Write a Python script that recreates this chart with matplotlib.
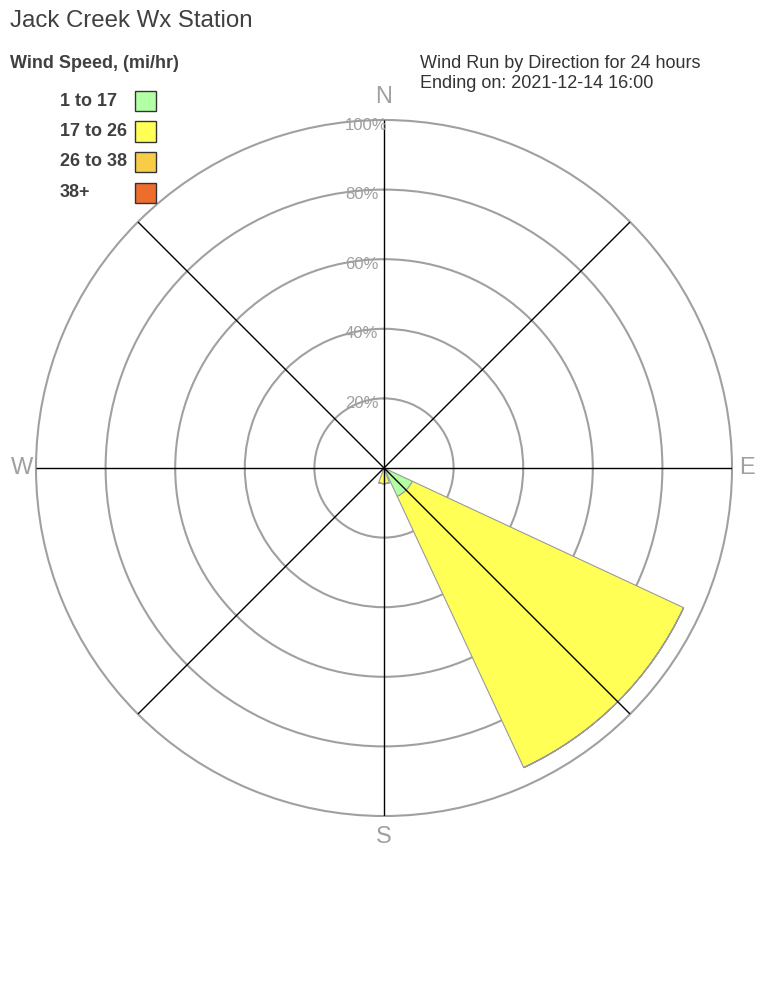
import numpy as np
import matplotlib
matplotlib.use('Agg')
import matplotlib.pyplot as plt
from matplotlib.patches import Rectangle

plt.rcParams['font.family'] = ['Liberation Sans', 'DejaVu Sans']

# wind rose data (percent of wind run, stacked by speed class)
directions = ['N', 'NE', 'E', 'SE', 'S', 'SW', 'W', 'NW']
bearings = [0, 45, 90, 135, 180, 225, 270, 315]
speed_classes = ['1 to 17', '17 to 26', '26 to 38', '38+']
class_colors = ['#b3ffa3', '#ffff55', '#f7cd48', '#ec6d2c']
run_1_17 = [0, 0, 0, 9.0, 0, 0, 0, 0]
run_17_26 = [0, 0, 0, 86.0, 4.5, 0, 0, 0]
run_26_38 = [0, 0, 0, 0, 0, 0, 0, 0]
run_38_plus = [0, 0, 0, 0, 0, 0, 0, 0]
ring_levels = [20, 40, 60, 80, 100]
ring_labels = ['20%', '40%', '60%', '80%', '100%']
compass = ['N', 'E', 'S', 'W']
compass_bearings = [0, 90, 180, 270]

W, H = 768, 1008
fig = plt.figure(figsize=(W / 100, H / 100), dpi=100)

cx, cy, rad = 384, 468, 348
ax = fig.add_axes([(cx - rad) / W, 1 - (cy + rad) / H, 2 * rad / W, 2 * rad / H],
                  projection='polar')
ax.set_theta_zero_location('N')
ax.set_theta_direction(-1)
ax.set_ylim(0, 100)
ax.set_axisbelow(True)

theta = np.radians(bearings)
width = np.radians(40)
bottom = np.zeros(len(directions))
for vals, col in zip([run_1_17, run_17_26, run_26_38, run_38_plus], class_colors):
    vals = np.array(vals)
    ax.bar(theta, vals, width=width, bottom=bottom, color=col,
           edgecolor='#9a9a9a', linewidth=0.8, zorder=2)
    bottom = bottom + vals

# rings and spokes
ax.set_rgrids(ring_levels[:-1], labels=[''] * (len(ring_levels) - 1))
ax.yaxis.grid(True, color='#a0a0a0', linewidth=1.5)
ax.xaxis.grid(False)
ax.set_xticks([])
ax.spines['polar'].set_color('#a0a0a0')
ax.spines['polar'].set_linewidth(1.5)
ax.vlines(np.radians(np.arange(0, 360, 45)), 0, 100, color='black', linewidth=1, zorder=3)

for r, lab in zip(ring_levels, ring_labels):
    ax.annotate(lab, xy=(0, r), xytext=(-39, -5), textcoords='offset pixels',
                ha='left', va='center', fontsize=12, color='#a0a0a0', zorder=4)

offsets = {'N': (0, 23), 'E': (15, 0), 'S': (0, -21), 'W': (-14, 0)}
for lab, b in zip(compass, compass_bearings):
    ax.annotate(lab, xy=(np.radians(b), 100), xytext=offsets[lab],
                textcoords='offset pixels', ha='center', va='center',
                fontsize=17, color='#a0a0a0', annotation_clip=False)

# titles
fig.text(10 / W, 1 - 21 / H, 'Jack Creek Wx Station', fontsize=17.3,
         color='#404040', ha='left', va='center')
fig.text(10 / W, 1 - 63 / H, 'Wind Speed, (mi/hr)', fontsize=13,
         fontweight='bold', color='#404040', ha='left', va='center')
fig.text(420 / W, 1 - 63 / H, 'Wind Run by Direction for 24 hours', fontsize=13,
         color='#333333', ha='left', va='center')
fig.text(420 / W, 1 - 83 / H, 'Ending on: 2021-12-14 16:00', fontsize=13,
         color='#333333', ha='left', va='center')

# legend
for i, (lab, col) in enumerate(zip(speed_classes, class_colors)):
    yc = 101 + i * 30.5
    fig.text(60 / W, 1 - yc / H, lab, fontsize=13, fontweight='bold',
             color='#404040', ha='left', va='center')
    fig.add_artist(Rectangle((135 / W, 1 - (yc + 10) / H), 21 / W, 20 / H,
                             transform=fig.transFigure, facecolor=col,
                             edgecolor='#333333', linewidth=1))

fig.savefig('out.png', dpi=100)
